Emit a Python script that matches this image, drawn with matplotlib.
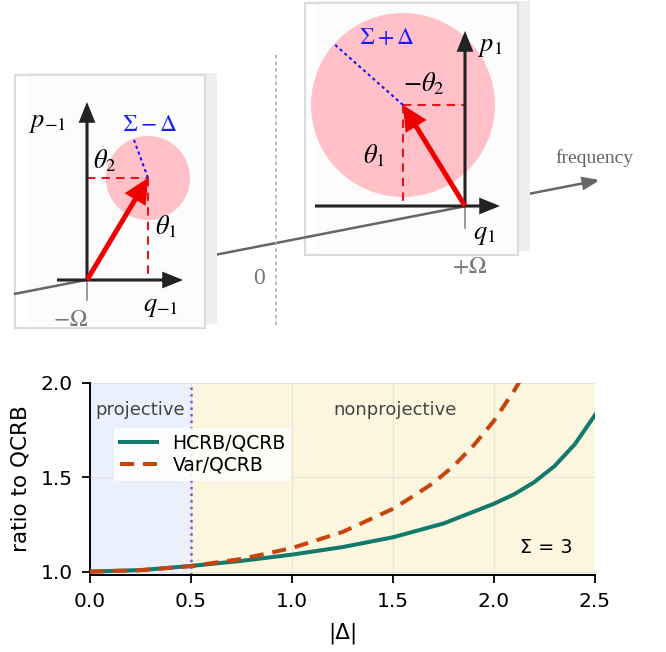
import numpy as np
import matplotlib
matplotlib.use("Agg")
import matplotlib.pyplot as plt
from matplotlib.patches import Circle, Rectangle, FancyArrowPatch

plt.rcParams['mathtext.fontset'] = 'stix'

# ratio curves (Sigma = 3)
delta = [0.0, 0.25, 0.5, 0.75, 1.0, 1.25, 1.5, 1.75, 2.0, 2.1, 2.2, 2.3, 2.4, 2.5]
hcrb_ratio = [1.0, 1.008, 1.03, 1.057, 1.09, 1.13, 1.182, 1.255, 1.36, 1.41, 1.475, 1.56, 1.675, 1.83]

delta_var = [0.0, 0.25, 0.5, 0.75, 1.0, 1.25, 1.5, 1.6, 1.7, 1.8, 1.9, 2.0, 2.05, 2.1, 2.15]
var_ratio = [1.0, 1.007, 1.029, 1.067, 1.125, 1.21, 1.333, 1.40, 1.47, 1.56, 1.67, 1.80, 1.88, 1.96, 2.05]

proj_edge = 0.5
x_ticks = [0.0, 0.5, 1.0, 1.5, 2.0, 2.5]
y_ticks = [1.0, 1.5, 2.0]

fig = plt.figure(figsize=(6.66, 6.52), dpi=100)

# ---------------- schematic (pixel coordinates) ----------------
ad = fig.add_axes([0, 0, 1, 1], zorder=0)
ad.set_xlim(0, 666)
ad.set_ylim(652, 0)
ad.axis('off')

def arrow(p0, p1, color, lw, hl, hw, ms, z):
    a = FancyArrowPatch(p0, p1, arrowstyle=f'-|>,head_length={hl},head_width={hw}',
                        mutation_scale=ms, color=color, lw=lw, shrinkA=0, shrinkB=0,
                        zorder=z, joinstyle='miter', capstyle='butt')
    ad.add_patch(a)

# frequency axis
f0, f1 = (14, 294), (600, 180)
arrow(f0, f1, '#666666', 1.8, 0.45, 0.17, 22, 1)
ad.text(594, 158, 'frequency', ha='center', va='center', color='#666666',
        family='Liberation Serif', fontsize=14)

def fy(x):
    return f0[1] + (f1[1] - f0[1]) * (x - f0[0]) / (f1[0] - f0[0])

# centre marker
ad.plot([276, 276], [55, 325], color='#aaaaaa', lw=1.2, ls=(0, (2, 2)), zorder=1)
ad.text(259, 278, '0', ha='center', va='center', color='#777777',
        family='Liberation Serif', fontsize=17)

# panel boxes
for (x0, y0, x1, y1) in [(15, 75, 205, 328), (305, 3, 518, 255)]:
    ad.add_patch(Rectangle((x0 + 12, y0 - 2), x1 - x0, y1 - y0 - 2,
                           facecolor='#efefef', edgecolor='none', zorder=2))
    ad.add_patch(Rectangle((x0, y0), x1 - x0, y1 - y0, facecolor='white', alpha=0.85,
                           edgecolor='none', zorder=3))
    ad.add_patch(Rectangle((x0, y0), x1 - x0, y1 - y0, facecolor='none',
                           edgecolor='#dcdcdc', lw=1.6, zorder=3))

# left panel (-Omega)
o = (87, 280)
c = (148, 178)
ad.plot([15, o[0]], [fy(15), fy(o[0])], color='#666666', lw=1.8, zorder=4)
ad.add_patch(Circle(c, 42, facecolor='#ffc0c8', edgecolor='none', zorder=4))
ad.plot([o[0], c[0]], [c[1], c[1]], color='#e8141e', lw=1.5, ls=(0, (4, 3)), zorder=5)
ad.plot([c[0], c[0]], [c[1], o[1]], color='#e8141e', lw=1.5, ls=(0, (4, 3)), zorder=5)
ad.plot([c[0], 134], [c[1], 140], color='#1414ff', lw=1.5, ls=(0, (1.5, 1.5)), zorder=5)
ad.plot([o[0], o[0]], [o[1], 300], color='#888888', lw=1.2, zorder=5)
arrow((57, o[1]), (183, o[1]), '#222222', 2.2, 0.42, 0.17, 26, 6)
arrow((o[0], o[1]), (o[0], 102), '#222222', 2.2, 0.42, 0.17, 26, 6)
arrow(o, c, '#ee0000', 3.6, 0.45, 0.22, 27, 7)
ad.text(48, 122, r'$p_{-1}$', ha='center', va='center', fontsize=19, zorder=8)
ad.text(161, 306, r'$q_{-1}$', ha='center', va='center', fontsize=19, zorder=8)
ad.text(150, 124, r'$\Sigma - \Delta$', ha='center', va='center', fontsize=17,
        color='#1a1aff', zorder=8)
ad.text(105, 161, r'$\theta_2$', ha='center', va='center', fontsize=19, zorder=8)
ad.text(166, 227, r'$\theta_1$', ha='center', va='center', fontsize=19, zorder=8)
ad.text(71, 319, r'$-\Omega$', ha='center', va='center', fontsize=17, color='#777777',
        zorder=8)

# right panel (+Omega)
o = (465, 206)
c = (403, 105)
ad.plot([305, o[0]], [fy(305), fy(o[0])], color='#666666', lw=1.8, zorder=4)
ad.add_patch(Circle(c, 92, facecolor='#ffc0c8', edgecolor='none', zorder=4))
ad.plot([c[0], o[0]], [c[1], c[1]], color='#e8141e', lw=1.5, ls=(0, (4, 3)), zorder=5)
ad.plot([c[0], c[0]], [c[1], o[1]], color='#e8141e', lw=1.5, ls=(0, (4, 3)), zorder=5)
ad.plot([c[0], 333], [c[1], 43], color='#1414ff', lw=1.5, ls=(0, (1.5, 1.5)), zorder=5)
ad.plot([o[0], o[0]], [o[1], 228], color='#888888', lw=1.2, zorder=5)
arrow((315, o[1]), (500, o[1]), '#222222', 2.2, 0.42, 0.17, 26, 6)
arrow((o[0], o[1]), (o[0], 31), '#222222', 2.2, 0.42, 0.17, 26, 6)
arrow(o, c, '#ee0000', 3.6, 0.45, 0.22, 27, 7)
ad.text(490, 46, r'$p_1$', ha='center', va='center', fontsize=19, zorder=8)
ad.text(484, 234, r'$q_1$', ha='center', va='center', fontsize=19, zorder=8)
ad.text(387, 37, r'$\Sigma + \Delta$', ha='center', va='center', fontsize=17,
        color='#1a1aff', zorder=8)
ad.text(424, 84, r'$-\theta_2$', ha='center', va='center', fontsize=19, zorder=8)
ad.text(374, 156, r'$\theta_1$', ha='center', va='center', fontsize=19, zorder=8)
ad.text(470, 266, r'$+\Omega$', ha='center', va='center', fontsize=17, color='#777777',
        zorder=8)

# ---------------- ratio plot ----------------
ax = fig.add_axes([90 / 666, 77 / 652, 505 / 666, 192 / 652], zorder=2)
ax.axvspan(0, proj_edge, color='#eaf1fd', zorder=0, lw=0)
ax.axvspan(proj_edge, 2.5, color='#fdf6de', zorder=0, lw=0)
ax.axvline(proj_edge, color='#8a4cf0', lw=1.8, ls=':', zorder=1)
ax.grid(True, color='#e6e4da', lw=0.8, zorder=0.5)
ax.set_axisbelow(True)

ax.plot(delta, hcrb_ratio, color='#127a6c', lw=2.9, label='HCRB/QCRB', zorder=3)
ax.plot(delta_var, var_ratio, color='#c8440f', lw=2.9, ls=(0, (3.5, 2.2)),
        label='Var/QCRB', zorder=3)

ax.set_xlim(0, 2.5)
ax.set_ylim(0.982, 2.0)
ax.set_xticks(x_ticks)
ax.set_yticks(y_ticks)
ax.tick_params(labelsize=14.5, length=5.5, width=1.3, direction='out', pad=7)
for s in ['top', 'right']:
    ax.spines[s].set_visible(False)
for s in ['left', 'bottom']:
    ax.spines[s].set_linewidth(1.4)
ax.set_xlabel('|Δ|', fontsize=15.5, labelpad=8)
ax.set_ylabel('ratio to QCRB', fontsize=15.5, labelpad=7)

ax.text(0.25, 0.86, 'projective', transform=ax.get_xaxis_transform(), ha='center',
        va='center', fontsize=13, color='#444444')
ax.text(1.51, 0.86, 'nonprojective', transform=ax.get_xaxis_transform(), ha='center',
        va='center', fontsize=13, color='#444444')
ax.text(2.26, 1.13, 'Σ = 3', ha='center', va='center', fontsize=13.8)

leg = ax.legend(loc='upper left', bbox_to_anchor=(0.048, 0.768), fontsize=13.5,
                frameon=True, framealpha=0.85, edgecolor='none', borderpad=0.3,
                borderaxespad=0, labelspacing=0.2, handlelength=2.0)

fig.savefig('out.png', dpi=100)
